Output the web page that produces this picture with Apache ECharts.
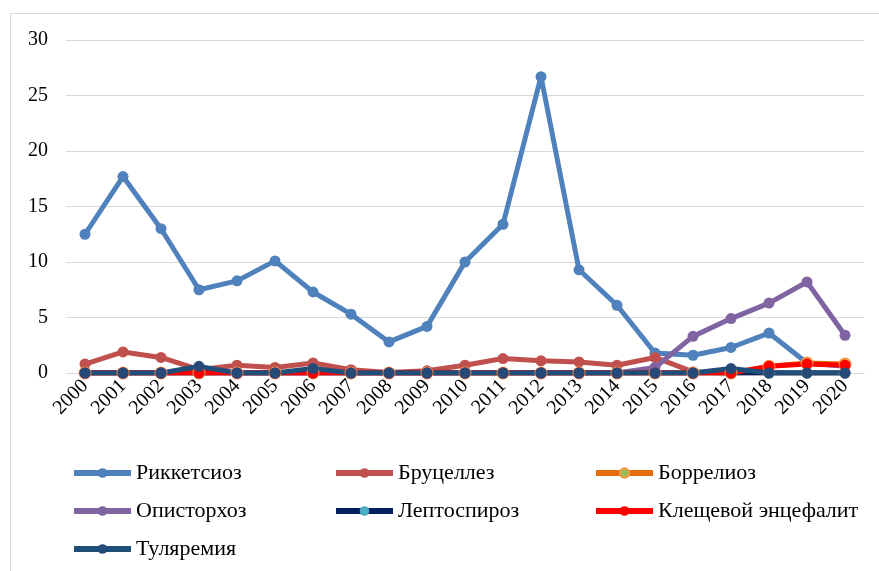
<!DOCTYPE html>
<html>
<head>
  <meta charset="utf-8">
  <title>Заболеваемость</title>
  <style>
    html, body { margin: 0; padding: 0; background: #fff; }
    #chart { width: 879px; height: 571px; }
  </style>
</head>
<body>
  <div id="chart"></div>
  <script src="https://cdn.jsdelivr.net/npm/echarts@6/dist/echarts.min.js"></script>
  <script>
    const years = ['2000','2001','2002','2003','2004','2005','2006','2007','2008','2009','2010',
      '2011','2012','2013','2014','2015','2016','2017','2018','2019','2020'];

    const rickettsiosis = [12.5, 17.7, 13.0, 7.5, 8.3, 10.1, 7.3, 5.3, 2.8, 4.2, 10.0,
      13.4, 26.7, 9.3, 6.1, 1.8, 1.6, 2.3, 3.6, 0.9, 0.6];
    const brucellosis = [0.8, 1.9, 1.4, 0.3, 0.7, 0.5, 0.9, 0.3, 0.05, 0.2, 0.7,
      1.3, 1.1, 1.0, 0.7, 1.4, 0.1, 0, 0, 0, 0];
    const borreliosis = [0, 0, 0, 0, 0, 0, 0, 0, 0, 0, 0,
      0, 0, 0, 0, 0, 0, 0, 0.6, 0.9, 0.8];
    const opisthorchiasis = [0, 0, 0, 0, 0, 0, 0, 0, 0, 0, 0,
      0, 0, 0, 0, 0.5, 3.3, 4.9, 6.3, 8.2, 3.4];
    const leptospirosis = [0, 0, 0, 0, 0, 0, 0, 0, 0, 0, 0,
      0, 0, 0, 0, 0, 0, 0, 0, 0, 0];
    const tickEncephalitis = [0, 0, 0, 0, 0, 0, 0, 0, 0, 0, 0,
      0, 0, 0, 0, 0, 0, 0, 0.6, 0.8, 0.7];
    const tularemia = [0, 0, 0, 0.6, 0, 0, 0.4, 0, 0, 0, 0,
      0, 0, 0, 0, 0, 0, 0.4, 0, 0, 0];

    const yTicks = [0, 5, 10, 15, 20, 25, 30];

    const font = '"Liberation Serif", "DejaVu Serif", serif';

    const mk = (name, data, lineColor, markColor, markBorder) => ({
      name: name,
      type: 'line',
      data: data,
      symbol: 'circle',
      symbolSize: 11,
      lineStyle: { color: lineColor, width: 5 },
      itemStyle: { color: markColor, borderColor: markBorder || markColor, borderWidth: markBorder ? 2 : 0 },
      color: lineColor
    });

    const series = [
      mk('Риккетсиоз', rickettsiosis, '#4F81BD', '#4F81BD'),
      mk('Бруцеллез', brucellosis, '#C0504D', '#C0504D'),
      mk('Боррелиоз', borreliosis, '#E46C0A', '#9BBB59', '#F79646'),
      mk('Описторхоз', opisthorchiasis, '#8064A2', '#8064A2'),
      mk('Лептоспироз', leptospirosis, '#002060', '#4BACC6'),
      mk('Клещевой энцефалит', tickEncephalitis, '#FF0000', '#FF0000'),
      mk('Туляремия', tularemia, '#1F4E79', '#254A78')
    ];

    const legendBase = {
      orient: 'vertical',
      top: 457,
      height: 130,
      itemWidth: 57,
      itemHeight: 12,
      itemGap: 16,
      lineStyle: { width: 6 },
      textStyle: { fontFamily: font, fontSize: 22, color: '#000' },
      selectedMode: false
    };

    const chart = echarts.init(document.getElementById('chart'));
    chart.setOption({
      animation: false,
      backgroundColor: '#fff',
      graphic: [{
        type: 'rect',
        shape: { x: 10.5, y: 13.5, width: 880, height: 570 },
        style: { fill: 'none', stroke: '#D9D9D9', lineWidth: 1 },
        silent: true
      }],
      grid: { left: 66, right: 15, top: 40, bottom: 198 },
      legend: [
        Object.assign({}, legendBase, { left: 66, data: ['Риккетсиоз', 'Описторхоз', 'Туляремия'] }),
        Object.assign({}, legendBase, { left: 328, data: ['Бруцеллез', 'Лептоспироз'] }),
        Object.assign({}, legendBase, { left: 588, data: ['Боррелиоз', 'Клещевой энцефалит'] })
      ],
      xAxis: {
        type: 'category',
        data: years,
        boundaryGap: true,
        axisLine: { show: true, lineStyle: { color: '#D9D9D9', width: 1 } },
        axisTick: { show: false },
        axisLabel: { rotate: 45, fontFamily: font, fontSize: 20, color: '#000', margin: 10, interval: 0 }
      },
      yAxis: {
        type: 'value',
        min: yTicks[0],
        max: yTicks[yTicks.length - 1],
        interval: 5,
        axisLine: { show: false },
        axisTick: { show: false },
        axisLabel: { fontFamily: font, fontSize: 20, color: '#000', margin: 18 },
        splitLine: { lineStyle: { color: '#D9D9D9', width: 1 } }
      },
      series: series
    });
  </script>
</body>
</html>
